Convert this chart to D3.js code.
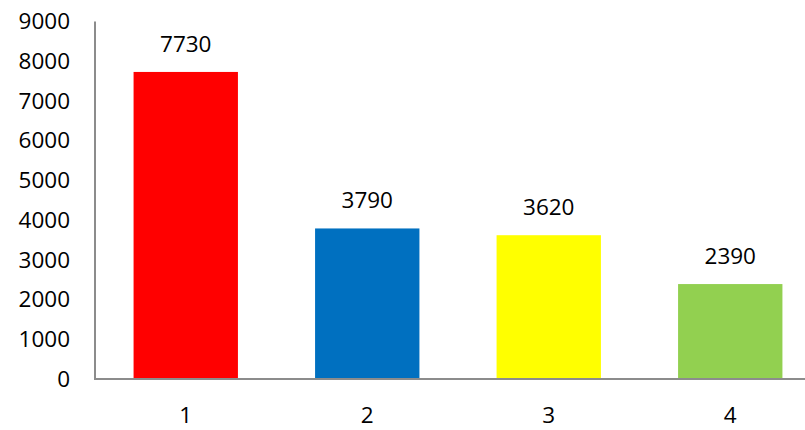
<!DOCTYPE html>
<html>
<head>
<meta charset="utf-8">
<script src="https://cdn.jsdelivr.net/npm/d3@7"></script>
<style>
  body { margin: 0; background: #fff; }
  text { font-family: "Open Sans", sans-serif; fill: #000; }
</style>
</head>
<body>
<div id="chart"></div>
<script>
var categories = ["1", "2", "3", "4"];
var values = [7730, 3790, 3620, 2390];
var barColors = ["#FF0000", "#0070C0", "#FFFF00", "#92D050"];
var yTicks = [0, 1000, 2000, 3000, 4000, 5000, 6000, 7000, 8000, 9000];

var width = 805;
var height = 430;

var svg = d3.select("div#chart").append("svg")
            .attr("width", width)
            .attr("height", height);

var x = d3.scaleBand()
          .domain(categories)
          .range([95, 821])
          .paddingInner(0.425)
          .paddingOuter(0.2125);

var y = d3.scaleLinear()
          .domain([0, 9000])
          .range([379, 21.5]);

/* y axis: labels only, plus a plain line */
var yAxis = svg.append("g")
               .attr("transform", "translate(95,0)")
               .call(d3.axisLeft(y).tickValues(yTicks).tickFormat(d3.format("d")).tickSize(0).tickPadding(25));
yAxis.select(".domain").remove();
yAxis.selectAll("text").style("font-size", "22.5px").style("font-family", "Open Sans, sans-serif");

svg.append("line")
   .attr("x1", 95).attr("x2", 95)
   .attr("y1", y(9000)).attr("y2", y(0))
   .attr("stroke", "#8c8c8c")
   .attr("stroke-width", 2);

svg.selectAll("rect.bar")
   .data(values)
   .enter()
   .append("rect")
   .attr("class", "bar")
   .attr("x", function(d, i) { return x(categories[i]); })
   .attr("y", function(d) { return y(d); })
   .attr("width", x.bandwidth())
   .attr("height", function(d) { return y(0) - y(d); })
   .attr("fill", function(d, i) { return barColors[i]; });

/* x axis */
svg.append("line")
   .attr("x1", 94).attr("x2", width)
   .attr("y1", y(0)).attr("y2", y(0))
   .attr("stroke", "#8c8c8c")
   .attr("stroke-width", 2);

var xAxis = svg.append("g")
               .attr("transform", "translate(0," + y(0) + ")")
               .call(d3.axisBottom(x).tickSize(0).tickPadding(28));
xAxis.select(".domain").remove();
xAxis.selectAll("text").style("font-size", "22.5px").style("font-family", "Open Sans, sans-serif");

/* value labels */
svg.selectAll("text.value")
   .data(values)
   .enter()
   .append("text")
   .attr("class", "value")
   .attr("x", function(d, i) { return x(categories[i]) + x.bandwidth() / 2; })
   .attr("y", function(d) { return y(d) - 26; })
   .attr("text-anchor", "middle")
   .attr("dominant-baseline", "middle")
   .style("font-size", "22.5px")
   .text(function(d) { return d; });
</script>
</body>
</html>
